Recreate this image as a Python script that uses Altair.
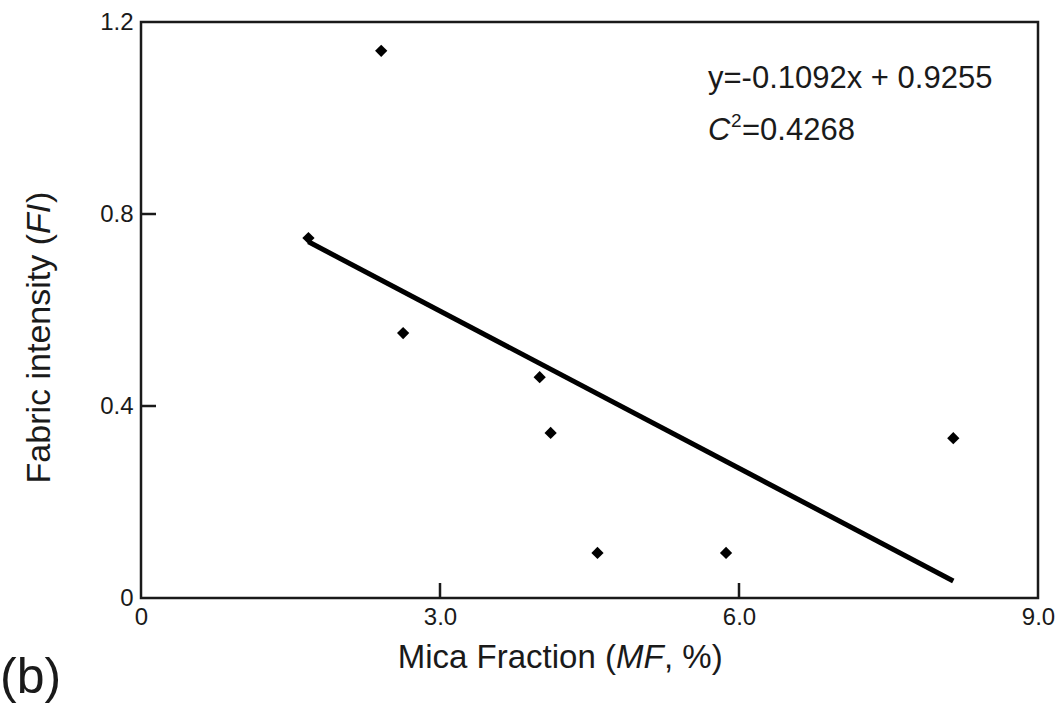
import altair as alt
import pandas as pd

# Measured samples: mica fraction (%) vs fabric intensity
mica_fraction = [2.41, 1.68, 2.63, 4.00, 4.11, 4.58, 5.87, 8.15]
fabric_intensity = [1.14, 0.75, 0.552, 0.46, 0.344, 0.094, 0.094, 0.333]

# Linear fit reported on the chart
slope = -0.1092
intercept = 0.9255
fit_x = [min(mica_fraction), max(mica_fraction)]

x_ticks = [0, 3, 6, 9]
y_ticks = [0, 0.4, 0.8, 1.2]
x_inner_ticks = [3, 6]
y_inner_ticks = [0.4, 0.8]

FONT = "Liberation Sans"
INK = "#1a1a1a"
W, H = 897, 576

points = pd.DataFrame({"mf": mica_fraction, "fi": fabric_intensity})
fit = pd.DataFrame({"mf": fit_x, "fi": [slope * v + intercept for v in fit_x]})

label_expr = "datum.value == 0 ? '0' : format(datum.value, '.1f')"
x_scale = alt.Scale(domain=[0, 9], nice=False, zero=False)
y_scale = alt.Scale(domain=[0, 1.2], nice=False, zero=False)

x_enc = alt.X("mf:Q", scale=x_scale, title=None,
              axis=alt.Axis(values=x_ticks, labelExpr=label_expr, ticks=False,
                            domain=False, grid=False, labelFlush=False,
                            labelFont=FONT, labelFontSize=24, labelColor=INK,
                            labelPadding=7))
y_enc = alt.Y("fi:Q", scale=y_scale, title=None,
              axis=alt.Axis(values=y_ticks, labelExpr=label_expr, ticks=False,
                            domain=False, grid=False, labelFlush=False,
                            labelFont=FONT, labelFontSize=24, labelColor=INK,
                            labelPadding=8))

scatter = alt.Chart(points).mark_point(
    shape="diamond", filled=True, size=150, color="black", opacity=1
).encode(x=x_enc, y=y_enc)

fit_line = alt.Chart(fit).mark_line(color="black", strokeWidth=5).encode(
    x=alt.X("mf:Q", scale=x_scale), y=alt.Y("fi:Q", scale=y_scale)
)

# Inward-pointing tick marks
xt = alt.Chart(pd.DataFrame({"mf": x_inner_ticks})).mark_rule(
    color=INK, strokeWidth=2.5
).encode(x=alt.X("mf:Q", scale=x_scale), y=alt.value(H), y2=alt.value(H - 15))
yt = alt.Chart(pd.DataFrame({"fi": y_inner_ticks})).mark_rule(
    color=INK, strokeWidth=2.5
).encode(y=alt.Y("fi:Q", scale=y_scale), x=alt.value(0), x2=alt.value(15))


def txt(s, x, y, size, align="left", italic=False, angle=0, baseline="alphabetic"):
    kw = dict(font=FONT, fontSize=size, color=INK, align=align, baseline=baseline)
    if italic:
        kw["fontStyle"] = "italic"
    if angle:
        kw["angle"] = angle
    return alt.Chart(pd.DataFrame({"t": [s]})).mark_text(**kw).encode(
        text="t:N", x=alt.value(x), y=alt.value(y)
    )


TS = 33  # axis title size
# x-axis title: Mica Fraction (MF, %)
ax = 616 - 141
x_title = [
    txt("Mica Fraction (", ax, 646, TS, align="right"),
    txt("MF", ax, 646, TS, italic=True),
    txt(", %)", ax + 48, 646, TS),
]
# y-axis title: Fabric intensity (FI), rotated
ay = 234 - 22
y_title = [
    txt("Fabric intensity (", -101, ay, TS + 1, align="right", angle=270, baseline="middle"),
    txt("FI", -101, ay, TS + 1, italic=True, angle=270, baseline="middle"),
    txt(")", -101, ay - 31, TS + 1, angle=270, baseline="middle"),
]

# Regression annotation
AS = 31
ann = [
    txt("y=-0.1092x + 0.9255", 567, 66, AS),
    txt("C", 567, 118, AS, italic=True),
    txt("2", 590, 105, 19),
    txt("=0.4268", 601, 118, AS),
]

panel = txt("(b)", -141, 671, 50)

chart = alt.layer(
    fit_line, scatter, xt, yt, *x_title, *y_title, *ann, panel
).properties(
    width=W, height=H,
    padding={"left": 141, "top": 22, "right": 1055 - 141 - W, "bottom": 106},
    autosize=alt.AutoSizeParams(type="none"),
).configure_view(stroke=INK, strokeWidth=2.5)

chart.save("out.html", embed_options={"renderer": "svg", "actions": False})
